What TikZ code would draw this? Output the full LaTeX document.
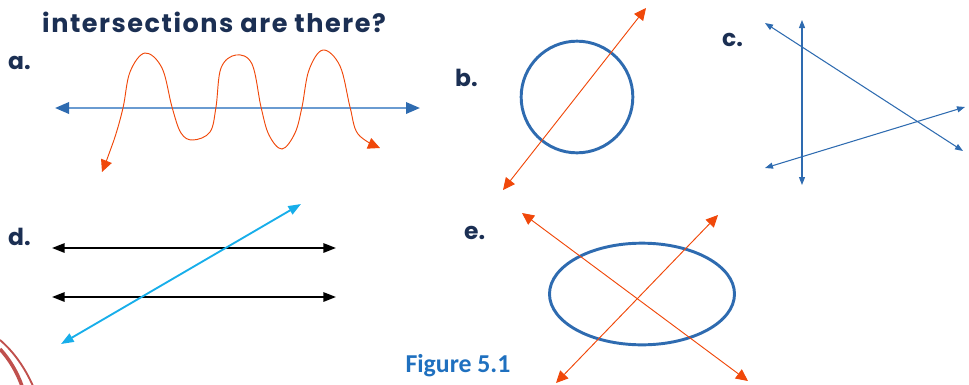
\documentclass[tikz,border=0pt]{standalone}
\usepackage{fontspec}
\setmainfont{Poppins}
\newfontfamily\captionfont{Carlito}
\newfontfamily\headfont[LetterSpace=6]{Poppins}
\usetikzlibrary{arrows.meta, shapes.geometric}

\definecolor{navy}{HTML}{1B2F53}
\definecolor{paleblue}{HTML}{6A9BD1}
\definecolor{deepblue}{HTML}{2E6BB0}
\definecolor{redorange}{HTML}{F0480A}
\definecolor{skycyan}{HTML}{17AEEA}
\definecolor{capblue}{HTML}{1F70BF}
\definecolor{trimred}{HTML}{C0504D}

\begin{document}
\begin{tikzpicture}[x=0.03cm, y=-0.03cm,
    label/.style={font=\bfseries\fontsize{20}{22}\selectfont, text=navy, inner sep=0pt},
    redline/.style={redorange, line width=0.8pt, {Triangle[length=3.6mm, width=3.4mm]}-{Triangle[length=3.6mm, width=3.4mm]}},
    thinblue/.style={deepblue, line width=0.9pt, {Triangle[length=2.4mm, width=1.8mm]}-{Triangle[length=2.4mm, width=1.8mm]}},
    ring/.style={deepblue, line width=2.5pt}
  ]

  \useasboundingbox (0,0) rectangle (969,384);

  % --- heading ---
  \node[label, font=\headfont\bfseries\fontsize{21.8}{24}\selectfont, anchor=west] (head) at (42,22) {intersections are there?};

  % --- a ---
  \node[label, anchor=west] (la) at (8,63) {a.};
  \coordinate (aL) at (55,108);
  \coordinate (aR) at (420,108);
  \draw[paleblue, line width=2pt, {Triangle[length=4.2mm, width=3.4mm, color=deepblue]}-{Triangle[length=4.2mm, width=3.4mm, color=deepblue]}] (aL) -- (aR);
  \draw[redline] plot[smooth, tension=0.6] coordinates {(102,172) (114,140) (123,108) (130,72) (145,53) (162,68) (172,107) (181,133) (193,140) (210,132) (216,107) (221,68) (236,55) (252,64) (261,107) (269,135) (282,149) (295,133) (302,107) (309,70) (323,50) (340,66) (350,107) (358,134) (380,148)};

  % --- b ---
  \node[label, anchor=west] (lb) at (455,78) {b.};
  \node[ring, draw, circle, minimum size=3.35cm, inner sep=0pt] (circ) at (577,97) {};
  \coordinate (bLo) at (503,190);
  \coordinate (bHi) at (646,8);
  \draw[redline] (bLo) -- (bHi);

  % --- c ---
  \node[label, anchor=west] (lc) at (722,40) {c.};
  \coordinate (cT) at (802,20);
  \coordinate (cB) at (802,185);
  \coordinate (cUL) at (765,23);
  \coordinate (cLR) at (963,151);
  \coordinate (cLL) at (765,168);
  \coordinate (cUR) at (965,107);
  \draw[thinblue] (cT) -- (cB);
  \draw[thinblue] (cUL) -- (cLR);
  \draw[thinblue] (cLL) -- (cUR);

  % --- d ---
  \node[label, anchor=west] (ld) at (8,237) {d.};
  \foreach \row/\yy in {top/248, bot/297} {
    \coordinate (d\row L) at (52,\yy);
    \coordinate (d\row R) at (336,\yy);
    \draw[black, line width=1.7pt, {Triangle[length=3.8mm, width=2.8mm]}-{Triangle[length=3.8mm, width=2.8mm]}] (d\row L) -- (d\row R);
  }
  \coordinate (dLo) at (61,344);
  \coordinate (dHi) at (301,204);
  \draw[skycyan, line width=1.6pt, {Triangle[length=3.8mm, width=2.8mm]}-{Triangle[length=3.8mm, width=2.8mm]}] (dLo) -- (dHi);

  % --- e ---
  \node[label, anchor=west] (le) at (464,233) {e.};
  \node[ring, draw, ellipse, minimum width=5.55cm, minimum height=3.05cm, inner sep=0pt] (oval) at (642,294) {};
  \coordinate (eUL) at (522,213);
  \coordinate (eLR) at (748,381);
  \coordinate (eLL) at (556,383);
  \coordinate (eUR) at (718,215);
  \draw[redline] (eUL) -- (eLR);
  \draw[redline] (eLL) -- (eUR);

  % caption
  \node[font=\captionfont\bfseries\fontsize{22}{24}\selectfont, text=capblue, inner sep=0pt] (cap) at (458,366) {Figure 5.1};

  % page trim, bottom left
  \draw[trimred, line width=3pt] (0,349) .. controls (10,360) and (17,372) .. (22,386);
  \draw[trimred, line width=1.6pt] (0,340) .. controls (14,352) and (25,368) .. (33,386);

\end{tikzpicture}
\end{document}
